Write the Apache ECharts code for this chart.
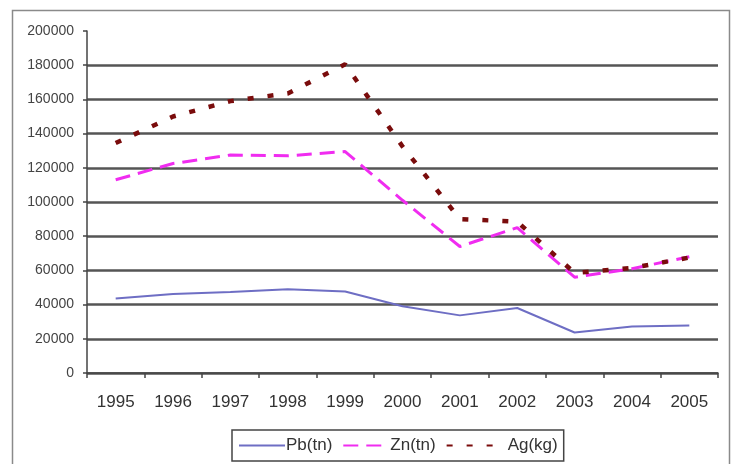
<!DOCTYPE html>
<html>
<head>
<meta charset="utf-8">
<script src="https://cdn.jsdelivr.net/npm/echarts@6/dist/echarts.min.js"></script>
<style>html,body{margin:0;padding:0;background:#fff;}#c{width:731px;height:464px;}</style>
</head>
<body>
<div id="c"></div>
<script>
var years = ['1995','1996','1997','1998','1999','2000','2001','2002','2003','2004','2005'];
var pb = [43500, 46200, 47400, 49000, 47700, 39000, 33700, 38000, 23700, 27200, 27800];
var zn = [113000, 122500, 127500, 127000, 129500, 101000, 74000, 85000, 56000, 61000, 68000];
var ag = [134500, 150000, 159000, 163500, 180500, 132500, 90000, 88500, 58500, 61500, 67500];
var seriesNames = ['Pb(tn)', 'Zn(tn)', 'Ag(kg)'];
var yTicks = [0, 20000, 40000, 60000, 80000, 100000, 120000, 140000, 160000, 180000, 200000];

var chart = echarts.init(document.getElementById('c'));
var gridColors = yTicks.map(function (v, i) { return i === yTicks.length - 1 ? 'rgba(0,0,0,0)' : '#555'; });
chart.setOption({
  animation: false,
  backgroundColor: '#fff',
  textStyle: { fontFamily: 'Liberation Sans, Arial, sans-serif' },
  graphic: [{
    type: 'rect', left: 10, top: 8, silent: true,
    shape: { width: 717, height: 480 },
    style: { fill: 'none', stroke: '#8a8a8a', lineWidth: 1.5 }
  }],
  grid: { left: 87, right: 13, top: 31, bottom: 91, containLabel: false },
  legend: {
    bottom: 3, left: 232, width: 340,
    itemWidth: 46, itemHeight: 14, itemGap: 10,
    padding: [7, 6, 7, 6],
    borderColor: '#444', borderWidth: 1.5, borderRadius: 0,
    itemStyle: { opacity: 0 },
    formatter: function (name) { return name === 'Ag(kg)' ? '{g|' + name + '}' : name; },
    textStyle: { fontSize: 17, color: '#333', padding: [0, 0, 0, -4],
      rich: { g: { fontSize: 17, color: '#333', padding: [0, 0, 0, 14] } } },
    data: seriesNames
  },
  xAxis: {
    type: 'category', data: years, boundaryGap: true,
    axisLine: { lineStyle: { color: '#444', width: 1.5 } },
    axisTick: { show: true, length: 5, inside: false, lineStyle: { color: '#444', width: 1.5 } },
    axisLabel: { fontSize: 17, color: '#333', margin: 21, interval: 0 },
    splitLine: { show: false }
  },
  yAxis: {
    type: 'value', min: 0, max: 200000, interval: 20000,
    axisLine: { show: true, lineStyle: { color: '#444', width: 1.5 } },
    axisTick: { show: true, length: 4, lineStyle: { color: '#444', width: 1.5 } },
    axisLabel: { fontSize: 14, color: '#444', margin: 13, formatter: function (v) { return String(v); } },
    splitLine: { show: true, lineStyle: { color: gridColors, width: 2.5 } }
  },
  series: [
    { name: seriesNames[0], type: 'line', data: pb, symbol: 'none',
      lineStyle: { color: '#6e6ec4', width: 2, type: 'solid' }, itemStyle: { color: '#6e6ec4' } },
    { name: seriesNames[1], type: 'line', data: zn, symbol: 'none',
      lineStyle: { color: '#f02cf0', width: 3, type: [15, 8] }, itemStyle: { color: '#f02cf0' } },
    { name: seriesNames[2], type: 'line', data: ag, symbol: 'none',
      lineStyle: { color: '#7a0c0c', width: 4.5, type: [6, 14] }, itemStyle: { color: '#7a0c0c' } }
  ]
});
</script>
</body>
</html>
